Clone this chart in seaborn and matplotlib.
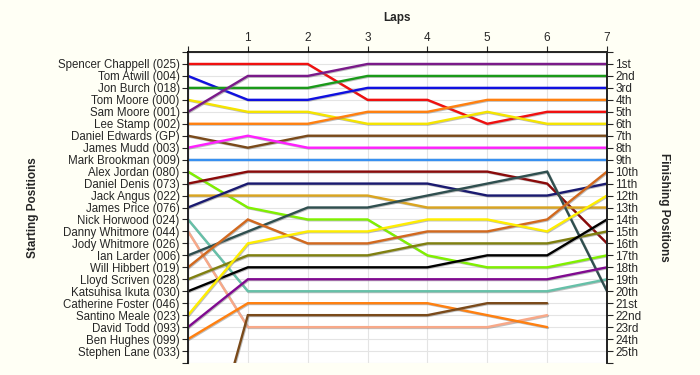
import numpy as np
import pandas as pd
import seaborn as sns
import matplotlib.pyplot as plt
import matplotlib.patheffects as pe

# lap numbers and starting grid
laps = [0, 1, 2, 3, 4, 5, 6, 7]
drivers = ["Spencer Chappell (025)", "Tom Atwill (004)", "Jon Burch (018)", "Tom Moore (000)",
           "Sam Moore (001)", "Lee Stamp (002)", "Daniel Edwards (GP)", "James Mudd (003)",
           "Mark Brookman (009)", "Alex Jordan (080)", "Daniel Denis (073)", "Jack Angus (022)",
           "James Price (076)", "Nick Horwood (024)", "Danny Whitmore (044)", "Jody Whitmore (026)",
           "Ian Larder (006)", "Will Hibbert (019)", "Lloyd Scriven (028)", "Katsuhisa Ikuta (030)",
           "Catherine Foster (046)", "Santino Meale (023)", "David Todd (093)", "Ben Hughes (099)",
           "Stephen Lane (033)"]
finish_labels = ["1st", "2nd", "3rd", "4th", "5th", "6th", "7th", "8th", "9th", "10th",
                 "11th", "12th", "13th", "14th", "15th", "16th", "17th", "18th", "19th", "20th",
                 "21st", "22nd", "23rd", "24th", "25th"]

nan = np.nan
# position at each lap
positions = {
    "Spencer Chappell (025)": [1, 1, 1, 4, 4, 6, 5, 5],
    "Tom Atwill (004)": [2, 4, 4, 3, 3, 3, 3, 3],
    "Jon Burch (018)": [3, 3, 3, 2, 2, 2, 2, 2],
    "Tom Moore (000)": [4, 5, 5, 6, 6, 5, 6, 6],
    "Sam Moore (001)": [5, 2, 2, 1, 1, 1, 1, 1],
    "Lee Stamp (002)": [6, 6, 6, 5, 5, 4, 4, 4],
    "Daniel Edwards (GP)": [7, 8, 7, 7, 7, 7, 7, 7],
    "James Mudd (003)": [8, 7, 8, 8, 8, 8, 8, 8],
    "Mark Brookman (009)": [9, 9, 9, 9, 9, 9, 9, 9],
    "Alex Jordan (080)": [10, 13, 14, 14, 17, 18, 18, 17],
    "Daniel Denis (073)": [11, 10, 10, 10, 10, 10, 11, 16],
    "Jack Angus (022)": [12, 12, 12, 12, 13, 13, 13, 13],
    "James Price (076)": [13, 11, 11, 11, 11, 12, 12, 11],
    "Nick Horwood (024)": [14, 20, 20, 20, 20, 20, 20, 19],
    "Danny Whitmore (044)": [15, 23, 23, 23, 23, 23, 22, nan],
    "Ian Larder (006)": [17, 15, 13, 13, 12, 11, 10, 20],
    "Will Hibbert (019)": [18, 14, 16, 16, 15, 15, 14, 10],
    "Lloyd Scriven (028)": [19, 17, 17, 17, 16, 16, 16, 15],
    "Katsuhisa Ikuta (030)": [20, 18, 18, 18, 18, 17, 17, 14],
    "Santino Meale (023)": [22, 16, 15, 15, 14, 14, 15, 12],
    "David Todd (093)": [23, 19, 19, 19, 19, 19, 19, 18],
    "Ben Hughes (099)": [24, 21, 21, 21, 21, 22, 23, nan],
    "Stephen Lane (033)": [40, 22, 22, 22, 22, 21, 21, nan],
}

colors = {
    "Spencer Chappell (025)": "#f01010",
    "Tom Atwill (004)": "#1010e0",
    "Jon Burch (018)": "#1a9a1a",
    "Tom Moore (000)": "#f5e400",
    "Sam Moore (001)": "#7a1a8a",
    "Lee Stamp (002)": "#ff8010",
    "Daniel Edwards (GP)": "#7a4a1a",
    "James Mudd (003)": "#ff20ff",
    "Mark Brookman (009)": "#3890f0",
    "Alex Jordan (080)": "#80f000",
    "Daniel Denis (073)": "#8a0a0a",
    "Jack Angus (022)": "#daa520",
    "James Price (076)": "#1a1a70",
    "Nick Horwood (024)": "#66c0a8",
    "Danny Whitmore (044)": "#f8a888",
    "Ian Larder (006)": "#2f4f4f",
    "Will Hibbert (019)": "#d2691e",
    "Lloyd Scriven (028)": "#808010",
    "Katsuhisa Ikuta (030)": "#000000",
    "Santino Meale (023)": "#ffee00",
    "David Todd (093)": "#800a90",
    "Ben Hughes (099)": "#ff8010",
    "Stephen Lane (033)": "#7a4a1a",
}

rows = []
for name, vals in positions.items():
    for lap, p in zip(laps, vals):
        if not np.isnan(p):
            rows.append({"driver": name, "lap": lap, "pos": p})
df = pd.DataFrame(rows)

sns.set_style("white")
plt.rcParams["font.family"] = ["Liberation Sans", "DejaVu Sans"]
fig = plt.figure(figsize=(7, 3.75), dpi=100, facecolor="#fffff5")
ax = fig.add_axes([188 / 700, 12 / 375, 419 / 700, 311 / 375])
ax.set_facecolor("white")

sns.lineplot(data=df, x="lap", y="pos", hue="driver", palette=colors, legend=False,
             sort=False, estimator=None, linewidth=1.7, ax=ax)
for line in ax.get_lines():
    line.set_path_effects([pe.SimpleLineShadow(offset=(0.6, -0.6), shadow_color="gray", alpha=0.5),
                           pe.Normal()])
    line.set_solid_joinstyle("miter")

ax.set_xlim(0, 7)
ax.set_ylim(26, 0)
ax.xaxis.tick_top()
ax.set_xticks(laps)
ax.set_xticklabels([""] + [str(l) for l in laps[1:]], fontsize=8.5)
ax.set_xlabel("")
ax.set_yticks(range(0, 27))
ax.set_yticklabels([""] + drivers + [""], fontsize=8.3)
ax.tick_params(axis="x", length=4, width=0.8, pad=2)
ax.tick_params(axis="y", length=4, width=0.8, pad=2)
ax.grid(True, color="#e4e4e4", linewidth=0.8)
for s in ["left", "top", "right"]:
    ax.spines[s].set_color("black")
    ax.spines[s].set_linewidth(1.2)
ax.spines["bottom"].set_visible(False)
ax.set_ylabel("Starting Positions", fontsize=8.5, fontweight="bold")
ax.yaxis.set_label_coords(-0.355, 0.5)

ax2 = ax.twinx()
ax2.set_ylim(26, 0)
ax2.set_yticks(range(0, 27))
ax2.set_yticklabels([""] + finish_labels + [""], fontsize=8.5)
ax2.tick_params(axis="y", length=4, width=0.8, pad=2)
ax2.spines["bottom"].set_visible(False)
ax2.spines["right"].set_linewidth(1.2)
ax2.set_ylabel("Finishing Positions", fontsize=8.5, fontweight="bold", rotation=270)
ax2.yaxis.set_label_coords(1.15, 0.5)

fig.text(397 / 700, 1 - 18 / 375, "Laps", ha="center", va="center", fontsize=8.5, fontweight="bold")

fig.savefig("out.png", dpi=100, facecolor=fig.get_facecolor())
